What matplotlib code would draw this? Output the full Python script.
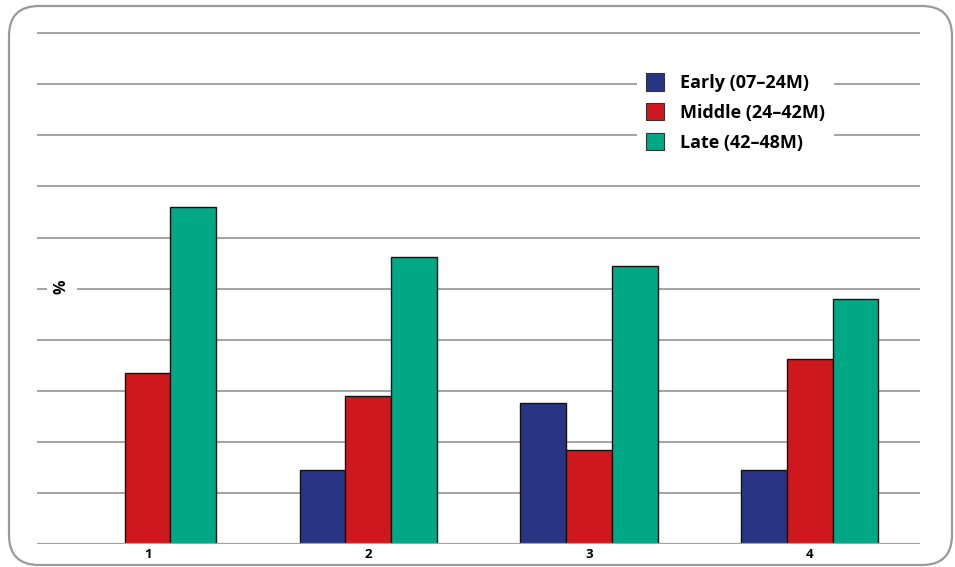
import matplotlib
matplotlib.use("Agg")
import matplotlib.pyplot as plt
from matplotlib.patches import FancyBboxPatch, Patch
import numpy as np

# dados
grupos = ["1", "2", "3", "4"]
series = ["Early (07\u201324M)", "Middle (24\u201342M)", "Late (42\u201348M)"]
early = [0.0, 14.5, 27.6, 14.4]
middle = [33.5, 28.9, 18.4, 36.3]
late = [66.0, 56.1, 54.5, 48.0]

cores = ["#293584", "#cf181d", "#00a886"]
cinza = "#a3a3a3"

plt.rcParams["font.family"] = ["Open Sans", "DejaVu Sans"]

fig = plt.figure(figsize=(9.55, 5.67), dpi=100)
ax = fig.add_axes([0.039, 0.0406, 0.9244, 0.9097])

# moldura arredondada
moldura = FancyBboxPatch((0.09, 0.02), 9.43, 5.59, boxstyle="round,pad=0,rounding_size=0.3",
                         transform=fig.dpi_scale_trans, facecolor="none",
                         edgecolor="#9a9a9a", linewidth=1.6, zorder=0)
fig.patches.append(moldura)

x = np.arange(len(grupos))
largura = 0.2074
valores = [early, middle, late]
for i, (vals, cor) in enumerate(zip(valores, cores)):
    ax.bar(x + (i - 1) * largura, vals, largura, color=cor, edgecolor="#111111",
           linewidth=1.0, zorder=3)

ax.set_xlim(-0.5, 3.5)
ax.set_ylim(0, 101)
for v in np.arange(10, 101, 10):
    ax.axhline(v, color=cinza, linewidth=1.4, zorder=1)
ax.axhline(0, color=cinza, linewidth=1.6, zorder=4)

for s in ax.spines.values():
    s.set_visible(False)
ax.set_yticks([])
ax.set_xticks(x)
ax.set_xticklabels(grupos, fontsize=9.5, fontweight="bold")
ax.tick_params(axis="x", length=0, pad=3)

ax.text(0.028, 50.4, "%", rotation=90, ha="center", va="center", fontsize=11.5,
        fontweight="bold", transform=ax.get_yaxis_transform(),
        bbox=dict(facecolor="white", edgecolor="none", pad=5), zorder=5)

handles = [Patch(facecolor=c, edgecolor="#333333", linewidth=0.8) for c in cores]
leg = ax.legend(handles, series, loc="upper left", bbox_to_anchor=(0.679, 0.930),
                frameon=True, fancybox=False, framealpha=1, edgecolor="none",
                facecolor="white", prop={"size": 13, "weight": "bold"},
                handlelength=1.0, handleheight=1.1, handletextpad=0.9,
                labelspacing=0.61, borderpad=0.5, borderaxespad=0)
leg.set_zorder(6)

fig.savefig("out.png", dpi=100)
